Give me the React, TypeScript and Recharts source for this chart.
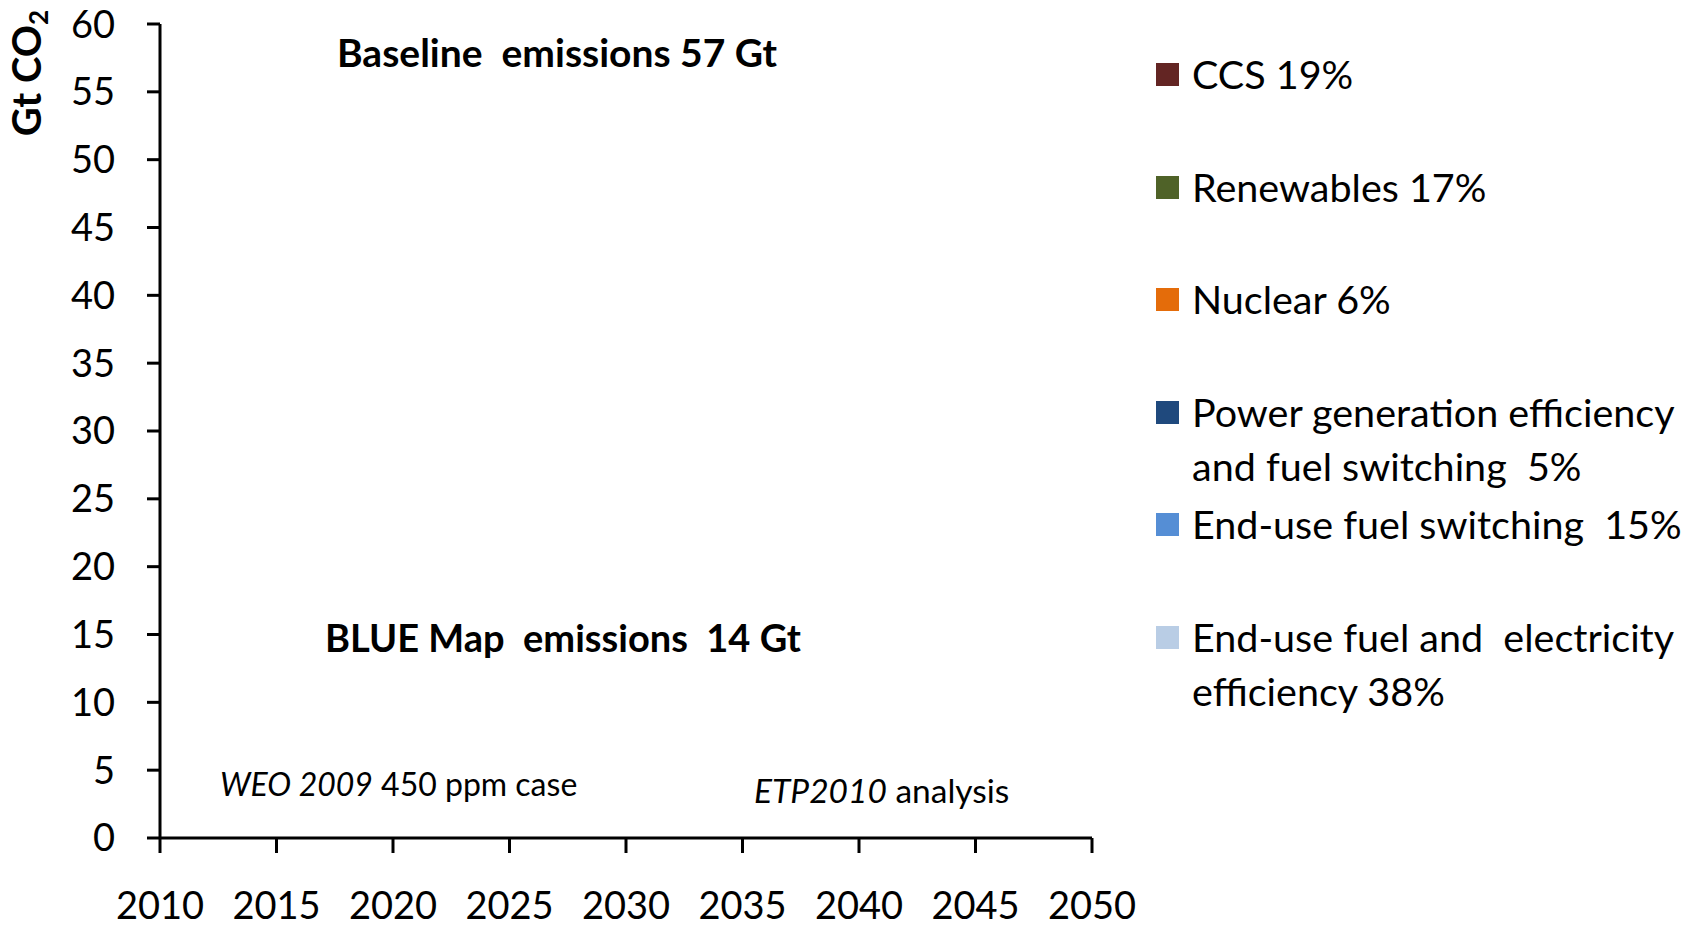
import React from 'react';
import { AreaChart, Area, XAxis, YAxis, Legend } from 'recharts';

// x axis years (also used as tick labels)
const years = [2010, 2015, 2020, 2025, 2030, 2035, 2040, 2045, 2050];
const yTicks = [0, 5, 10, 15, 20, 25, 30, 35, 40, 45, 50, 55, 60];

// legend entries, top to bottom
const seriesKeys = ['ccs', 'renewables', 'nuclear', 'powerGen', 'endUseSwitching', 'endUseEfficiency'];
const seriesNames = [
  'CCS 19%',
  'Renewables 17%',
  'Nuclear 6%',
  'Power generation efficiency\nand fuel switching  5%',
  'End-use fuel switching  15%',
  'End-use fuel and  electricity\nefficiency 38%',
];
const seriesColors = ['#632523', '#4F6228', '#E46C0A', '#1F497D', '#558ED5', '#B9CDE5'];

// the wedges are not drawn in the picture, so every series is empty
const ccs: (number | null)[] = [null, null, null, null, null, null, null, null, null];
const renewables: (number | null)[] = [null, null, null, null, null, null, null, null, null];
const nuclear: (number | null)[] = [null, null, null, null, null, null, null, null, null];
const powerGen: (number | null)[] = [null, null, null, null, null, null, null, null, null];
const endUseSwitching: (number | null)[] = [null, null, null, null, null, null, null, null, null];
const endUseEfficiency: (number | null)[] = [null, null, null, null, null, null, null, null, null];

const seriesValues = [ccs, renewables, nuclear, powerGen, endUseSwitching, endUseEfficiency];

const data = years.map((year, i) => {
  const row: Record<string, number | null> = { year };
  seriesKeys.forEach((k, s) => {
    row[k] = seriesValues[s][i];
  });
  return row;
});

const FONT = 'Lato, "Open Sans", sans-serif';

const LegendBox = () => (
  <div style={{ fontFamily: FONT, fontSize: 39.5, lineHeight: '54px', color: '#000' }}>
    {seriesNames.map((name, i) => (
      <div key={seriesKeys[i]} style={{ display: 'flex', alignItems: 'flex-start', height: 112.6 }}>
        <div style={{ width: 23, height: 23, marginTop: 16, background: seriesColors[i], flex: 'none' }} />
        <div style={{ marginLeft: 13, whiteSpace: 'pre' }}>{name}</div>
      </div>
    ))}
  </div>
);

export default function App() {
  const tickStyle = { fill: '#000', fontSize: 38, fontFamily: FONT };
  return (
    <div style={{ position: 'absolute', left: 0, top: 0, width: 1694, height: 927, background: '#fff', fontFamily: FONT }}>
      <AreaChart width={1694} height={927} data={data} margin={{ top: 24, right: 602, left: 0, bottom: 0 }}>
        <XAxis
          dataKey="year"
          type="number"
          domain={[2010, 2050]}
          allowDataOverflow
          ticks={years}
          interval={0}
          height={89}
          stroke="#000"
          strokeWidth={3}
          tickSize={15}
          tickMargin={39}
          tick={tickStyle}
        />
        <YAxis
          type="number"
          domain={[0, 60]}
          allowDataOverflow
          ticks={yTicks}
          interval={0}
          width={160}
          stroke="#000"
          strokeWidth={3}
          tickSize={13}
          tickMargin={32}
          tick={tickStyle}
        />
        {seriesKeys.map((k, i) => (
          <Area
            key={k}
            dataKey={k}
            name={seriesNames[i]}
            type="linear"
            fill={seriesColors[i]}
            stroke="none"
            isAnimationActive={false}
          />
        ))}
        <Legend
          layout="vertical"
          align="center"
          verticalAlign="middle"
          content={() => <LegendBox />}
          wrapperStyle={{ left: 1156, top: 47, width: 538 }}
        />
      </AreaChart>
      <svg width={1694} height={927} style={{ position: 'absolute', left: 0, top: 0, pointerEvents: 'none' }}>
        <text x={41} y={73} transform="rotate(-90, 41, 73)" textAnchor="middle" fontFamily={FONT} fontWeight="bold" fontSize={40} fill="#000">
          Gt CO<tspan fontSize={26} dy={7}>2</tspan>
        </text>
        <text x={337} y={67} fontFamily={FONT} fontWeight="bold" fontSize={39} fill="#000" style={{ whiteSpace: 'pre' }}>
          Baseline  emissions 57 Gt
        </text>
        <text x={325} y={652} fontFamily={FONT} fontWeight="bold" fontSize={38} fill="#000" style={{ whiteSpace: 'pre' }}>
          BLUE Map  emissions  14 Gt
        </text>
        <text x={220} y={796} fontFamily={FONT} fontSize={32} fill="#000">
          <tspan fontStyle="italic">WEO 2009</tspan> 450 ppm case
        </text>
        <text x={754} y={803} fontFamily={FONT} fontSize={33.5} fill="#000">
          <tspan fontStyle="italic">ETP2010</tspan> analysis
        </text>
      </svg>
    </div>
  );
}
